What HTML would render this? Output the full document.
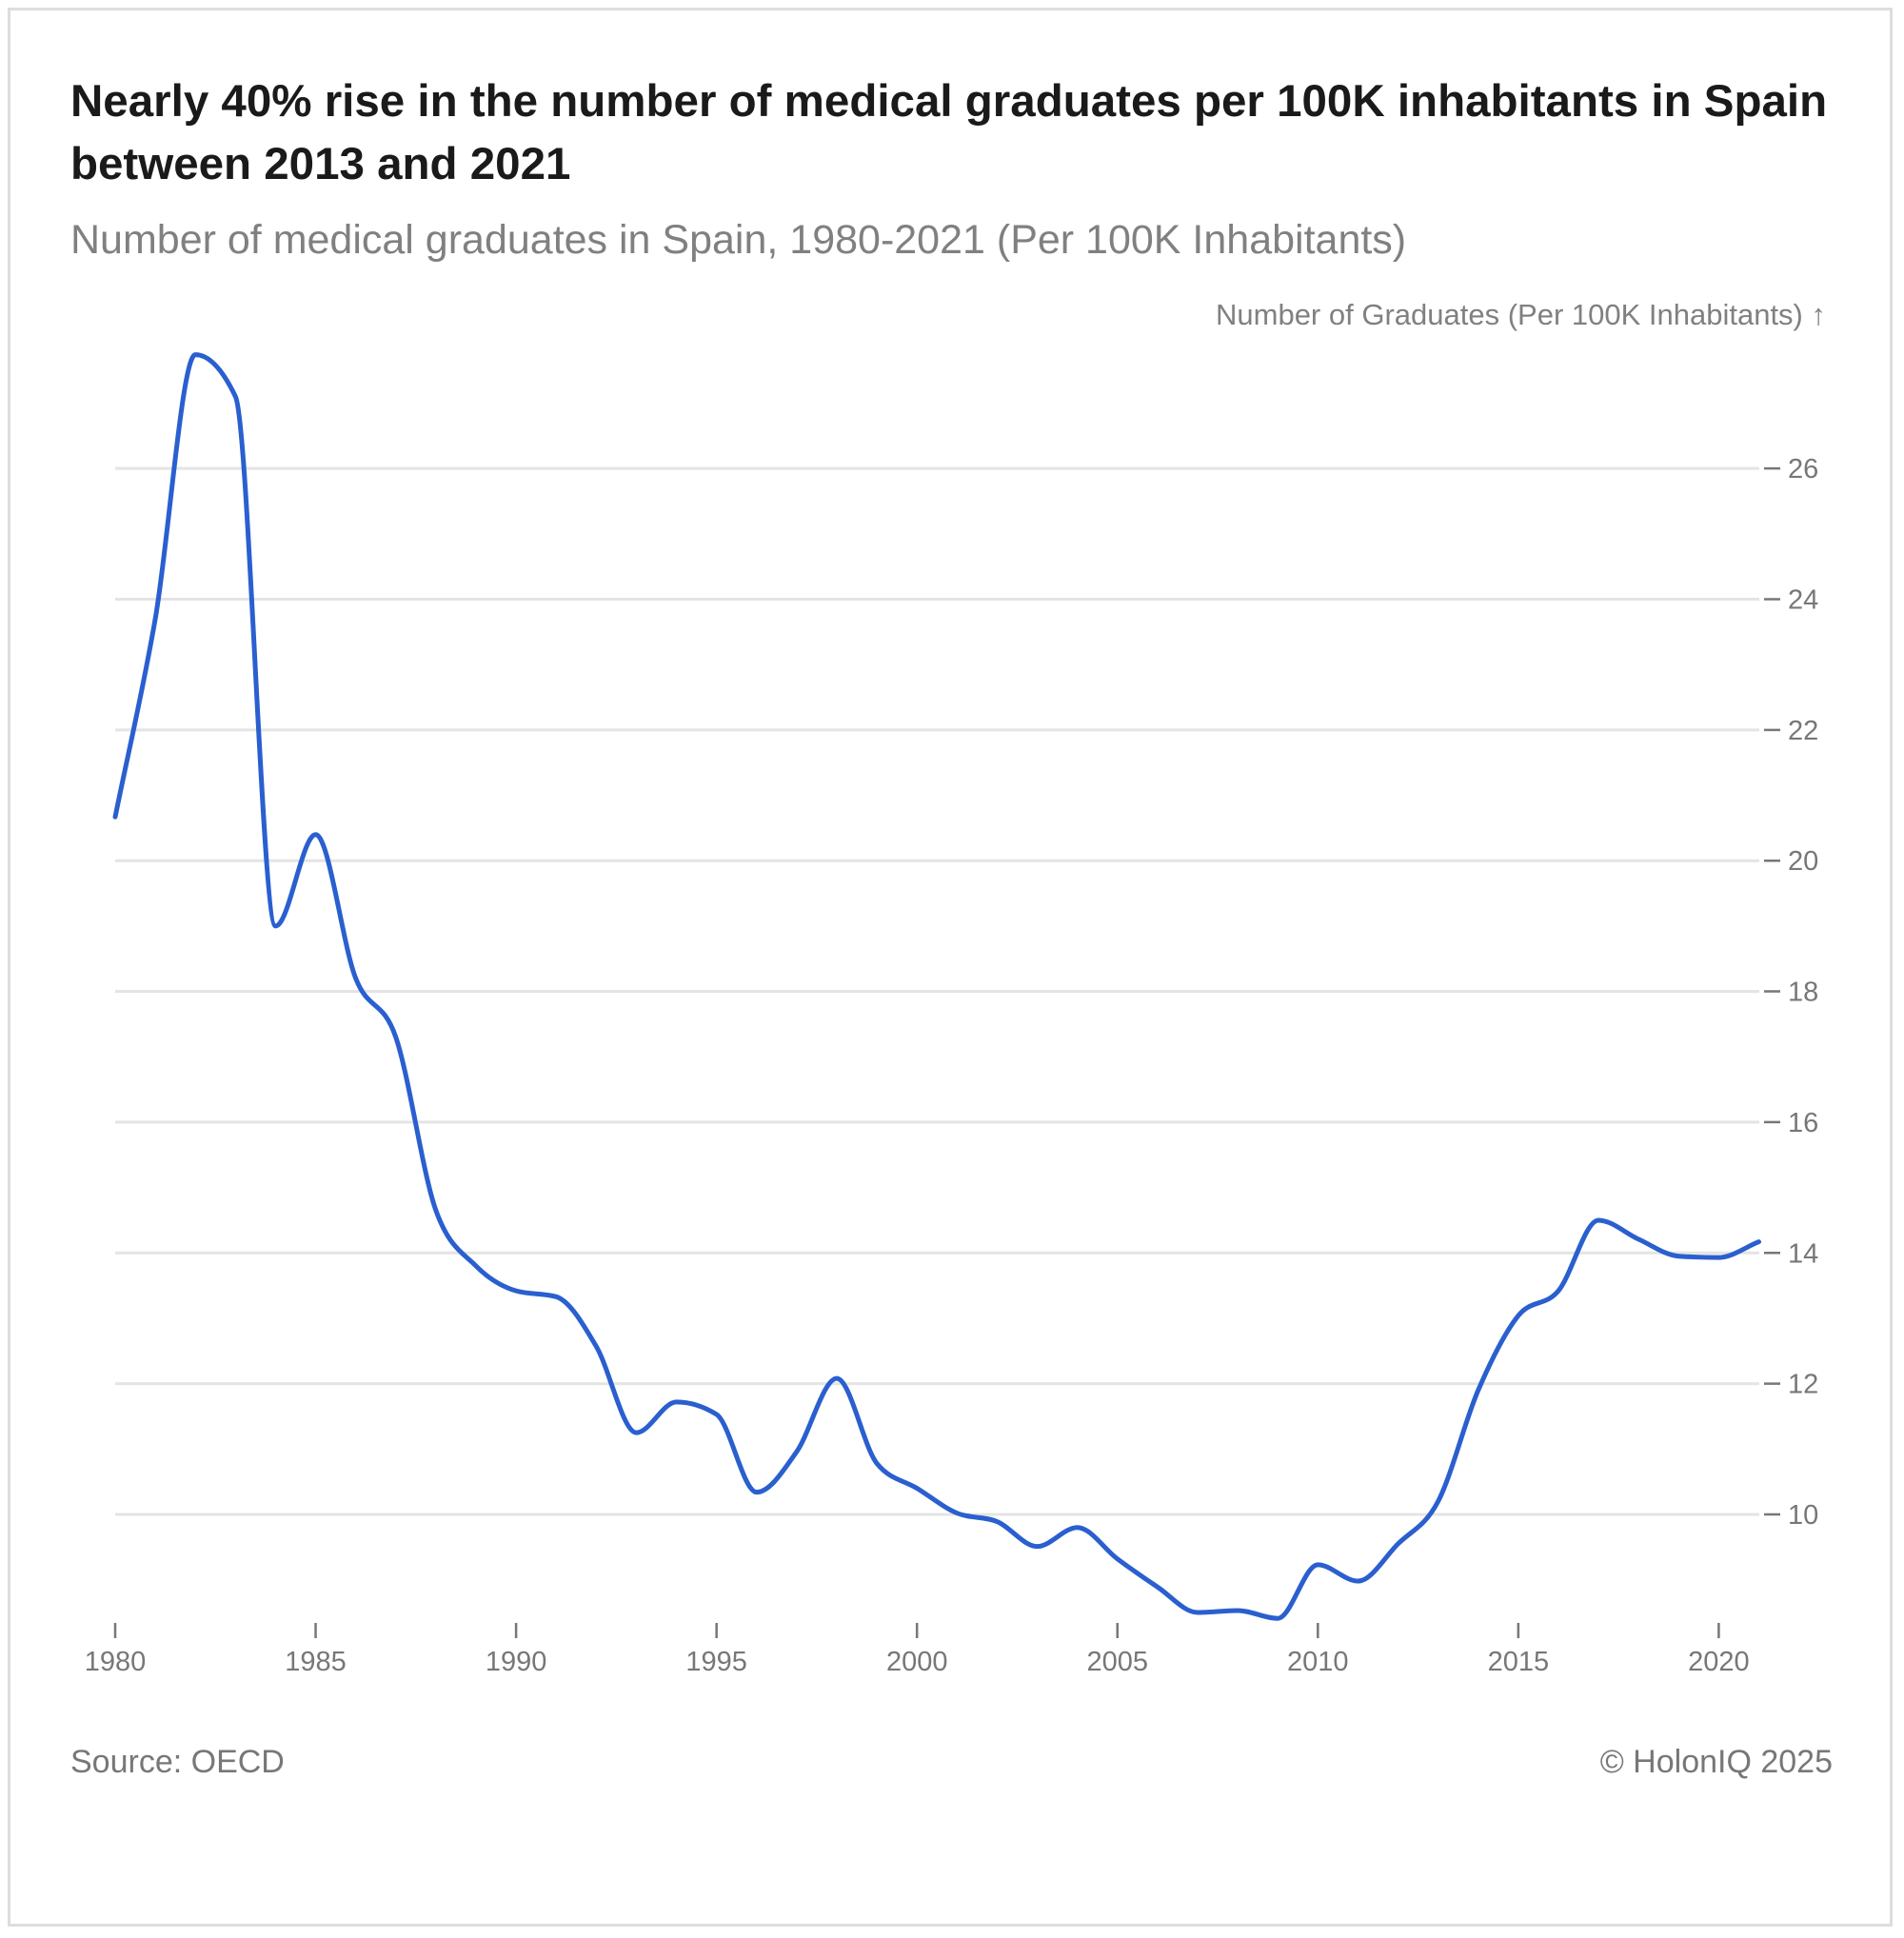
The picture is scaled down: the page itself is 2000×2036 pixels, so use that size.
<!DOCTYPE html>
<html><head><meta charset="utf-8"><style>
html,body{margin:0;padding:0;background:#fff;}
body{width:2000px;height:2036px;position:relative;overflow:hidden;font-family:"Liberation Sans",sans-serif;}
#frame{position:absolute;left:8px;top:8px;width:1980px;height:2016px;border:3px solid #ddd;box-sizing:border-box;}
.t{position:absolute;white-space:nowrap;}
</style></head><body>
<div id="frame"></div>
<div class="t" style="left:74px;top:74px;font-size:47.5px;font-weight:bold;color:#1a1a1a;line-height:66px;">Nearly 40% rise in the number of medical graduates per 100K inhabitants in Spain<br>between 2013 and 2021</div>
<div class="t" style="left:74px;top:228px;font-size:43px;color:#808080;">Number of medical graduates in Spain, 1980-2021 (Per 100K Inhabitants)</div>
<div class="t" style="left:74px;top:1832px;font-size:34px;color:#777;">Source: OECD</div>
<div class="t" style="right:75px;top:1832px;font-size:34px;color:#777;">© HolonIQ 2025</div>
<svg id="chart" width="2000" height="2036" style="position:absolute;left:0;top:0;"></svg>
<script>
const years=[1980,1981,1982,1983,1984,1985,1986,1987,1988,1989,1990,1991,1992,1993,1994,1995,1996,1997,1998,1999,2000,2001,2002,2003,2004,2005,2006,2007,2008,2009,2010,2011,2012,2013,2014,2015,2016,2017,2018,2019,2020,2021];
const values=[20.67,23.7,27.74,27.1,19.0,20.4,18.2,17.3,14.65,13.8,13.42,13.33,12.57,11.25,11.72,11.53,10.34,10.96,12.08,10.78,10.4,10.02,9.89,9.51,9.8,9.32,8.89,8.5,8.53,8.41,9.23,8.98,9.55,10.2,11.9,13.04,13.42,14.5,14.21,13.95,13.93,14.17];
const yTicks=[10,12,14,16,18,20,22,24,26];
const xTicks=[1980,1985,1990,1995,2000,2005,2010,2015,2020];
const NS='http://www.w3.org/2000/svg';
const svg=document.getElementById('chart');
const x=v=>121+(v-1980)*42.11;
const y=v=>1591-(v-10)*68.68;
function mk(t,a){const e=document.createElementNS(NS,t);for(const k in a)e.setAttribute(k,a[k]);svg.appendChild(e);return e;}
yTicks.forEach(t=>{
 const g=mk('line',{x1:121,x2:1848,y1:y(t),y2:y(t),stroke:'#e4e4e4','stroke-width':3});
 
 
 const d=mk('line',{x1:1853,x2:1870,y1:y(t),y2:y(t),stroke:'#777','stroke-width':2.5});
 
 
 const l=mk('text',{x:1878,y:y(t)+10,'font-size':29,fill:'#777','font-family':'Liberation Sans, sans-serif'});
 l.textContent=t;
 
 
});
xTicks.forEach(t=>{
 const d=mk('line',{x1:x(t),x2:x(t),y1:1705,y2:1721,stroke:'#777','stroke-width':2.5});
 
 
 const l=mk('text',{x:x(t),y:1755,'font-size':29,fill:'#777','text-anchor':'middle','font-family':'Liberation Sans, sans-serif'});
 l.textContent=t;
 
 
});
const yt=mk('text',{x:1918,y:341,'font-size':31,fill:'#808080','text-anchor':'end','font-family':'Liberation Sans, sans-serif'});
yt.textContent='Number of Graduates (Per 100K Inhabitants) ↑';


const P=years.map((yr,i)=>[x(yr),y(values[i])]);
const n=P.length;
const sl=[];for(let i=0;i<n-1;i++)sl.push((P[i+1][1]-P[i][1])/(P[i+1][0]-P[i][0]));
const m=[];
for(let i=0;i<n;i++){
 if(i===0)m.push(sl[0]);else if(i===n-1)m.push(sl[n-2]);
 else{const a=sl[i-1],b=sl[i];if(a*b<=0)m.push(0);else{const h0=P[i][0]-P[i-1][0],h1=P[i+1][0]-P[i][0];const p=(a*h1+b*h0)/(h0+h1);m.push((Math.sign(a)+Math.sign(b))*Math.min(Math.abs(a),Math.abs(b),0.5*Math.abs(p)));}}
}
let d='M'+P[0][0]+','+P[0][1];
for(let i=0;i<n-1;i++){
 const h=(P[i+1][0]-P[i][0])/3;
 d+=` C${P[i][0]+h},${P[i][1]+m[i]*h} ${P[i+1][0]-h},${P[i+1][1]-m[i+1]*h} ${P[i+1][0]},${P[i+1][1]}`;
}
const line=mk('path',{d:d,fill:'none',stroke:'#2a5fcf','stroke-width':5,'stroke-linejoin':'round','stroke-linecap':'round'});


</script>
</body></html>
